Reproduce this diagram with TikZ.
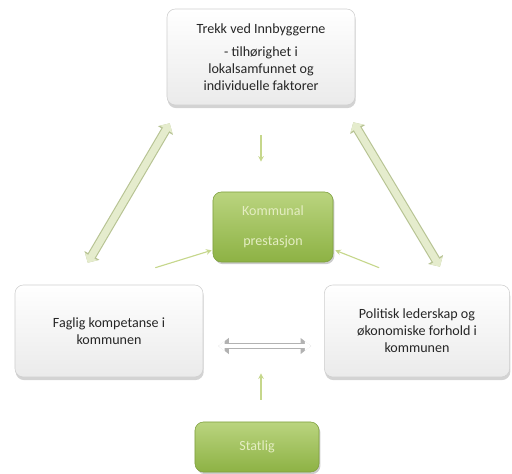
\documentclass[tikz,border=0pt]{standalone}
\usepackage{fontspec}
\setmainfont{Carlito}
\usetikzlibrary{arrows.meta,shadows}

\definecolor{boxline}{HTML}{CFCFCF}
\definecolor{greentop}{HTML}{BAD47F}
\definecolor{greenbot}{HTML}{8DB244}
\definecolor{greenline}{HTML}{7E9F3E}
\definecolor{greentext}{HTML}{E4EDC2}
\definecolor{arrowfill}{HTML}{E5ECCD}
\definecolor{arrowline}{HTML}{B7C393}
\definecolor{thinarrow}{HTML}{C6D78C}

\tikzset{
  greybox/.style={draw=boxline, rounded corners=6pt, top color=white, bottom color=gray!16,
    align=center, text=black!85,
    drop shadow={shadow xshift=0.5pt, shadow yshift=-2.2pt, opacity=0.35}},
  greenbox/.style={draw=greenline, rounded corners=6pt, top color=greentop, bottom color=greenbot,
    align=center, text=greentext,
    drop shadow={shadow xshift=1pt, shadow yshift=-1.5pt, opacity=0.4}},
  bigarrow/.style={arrowfill, line width=5pt,
    {Triangle[length=5pt,width=10pt]}-{Triangle[length=5pt,width=10pt]},
    preaction={draw=arrowline, line width=6.6pt,
      {Triangle[length=6pt,width=12pt]}-{Triangle[length=6pt,width=12pt]}}},
  flatarrow/.style={white, line width=2.8pt,
    {Triangle[length=4.5pt,width=7pt]}-{Triangle[length=4.5pt,width=7pt]},
    preaction={draw=gray!60, line width=4.6pt,
      {Triangle[length=7.5pt,width=11pt]}-{Triangle[length=7.5pt,width=11pt]}}},
  thin/.style={color=thinarrow, line width=0.8pt, -{Stealth[length=4pt,width=4pt]}}
}

\begin{document}
\begin{tikzpicture}[x=0.025cm, y=-0.025cm]

% The frame
\useasboundingbox (0,0) rectangle (512,473);

% The grey boxes
\node[greybox, minimum width=4.7cm, minimum height=2.4cm] (innb) at (261,57)
  {Trekk ved Innbyggerne\\[5pt]- tilhørighet i\\lokalsamfunnet og\\individuelle faktorer};
\node[greybox, minimum width=4.7cm, minimum height=2.3cm] (faglig) at (109,331)
  {Faglig kompetanse i\\kommunen};
\node[greybox, minimum width=4.63cm, minimum height=2.3cm] (politisk) at (417,331)
  {Politisk lederskap og\\økonomiske forhold i\\kommunen};

% The green boxes
\node[greenbox, minimum width=3cm, minimum height=1.75cm] (prest) at (273,227)
  {Kommunal\\[9pt]prestasjon};
\node[greenbox, minimum width=3.1cm, minimum height=1.25cm] (statlig) at (257,447)
  {Statlig};

% The big arrows
\draw[bigarrow] ([shift={(3,18)}]innb.south west) -- ([shift={(73,-22)}]faglig.north west);
\draw[bigarrow] ([shift={(-2,17)}]innb.south east) -- ([shift={(-70,-18)}]politisk.north east);
\draw[flatarrow] ([shift={(15,15)}]faglig.east) -- ([shift={(-13,15)}]politisk.west);

% The thin arrows
\draw[thin] ([shift={(0,30)}]innb.south) -- ([shift={(0,-30)}]prest.north -| innb.south);
\draw[thin] ([shift={(-48,-17)}]faglig.north east) -- ([shift={(-1,-12)}]prest.south west);
\draw[thin] ([shift={(55,-17)}]politisk.north west) -- ([shift={(2,-12)}]prest.south east);
\draw[thin] ([shift={(0,-22)}]statlig.north -| innb.south) -- ([shift={(0,-4)}]innb.south |- faglig.south);

\end{tikzpicture}
\end{document}
